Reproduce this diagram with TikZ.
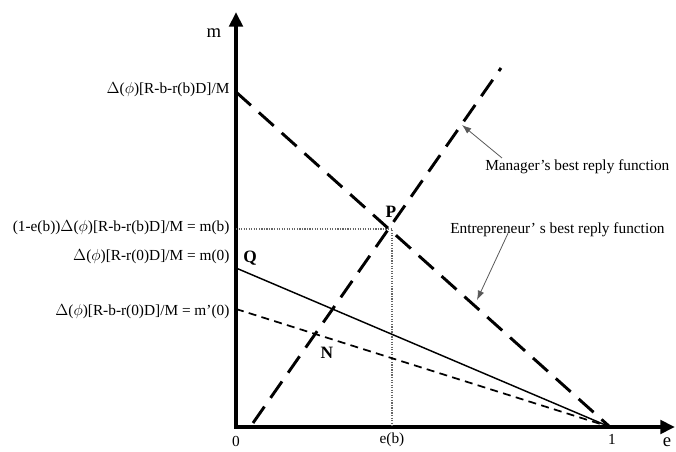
\documentclass[tikz,border=0pt]{standalone}
\usepackage{fontspec}
\setmainfont{Liberation Serif}
\usepackage{tikz}
\usetikzlibrary{arrows.meta, positioning}
\newcommand{\Dphi}{$\Delta$($\phi$)}

\begin{document}
\begin{tikzpicture}[x=0.75pt, y=-0.75pt, font=\fontsize{11.5}{13}\selectfont,
    axis/.style={line width=3pt, {Triangle[length=11pt, width=10pt]}-{Triangle[length=11pt, width=10pt]}},
    reply/.style={line width=2.2pt, dash pattern=on 15pt off 8pt},
    lbl/.style={anchor=east, inner sep=1pt},
    pt/.style={font=\fontsize{13}{15}\selectfont\bfseries, inner sep=1pt},
    big/.style={font=\fontsize{14}{16}\selectfont, inner sep=1pt},
    note/.style={draw=black!65, line width=0.6pt, -{Latex[length=7pt, width=5pt]}}]
    \useasboundingbox (0,0) rectangle (676,452);
    \coordinate (O) at (236,427);
    \coordinate (ytop) at (236,12);
    \coordinate (xend) at (675,427);
    \coordinate (one) at (610,427);
    \coordinate (eb) at (392,427);
    \coordinate (P) at (392,229);
    \coordinate (mb) at (236,229);
    \coordinate (A) at (236,92);
    \coordinate (Q) at (236,268);
    \coordinate (M0) at (236,309);
    \coordinate (B) at (253,423);
    \coordinate (T) at (501,68);

    % axes
    \draw[axis] (ytop) -- (O) -- (xend);
    \node[big] (mlab) at (214,33) {m};
    \node[big] (elab) at (667,442) {e};
    \node (zero) at (236,441) {0};
    \node (oneLab) at (612,439) {1};
    \node (ebLab) at (392,440) {e(b)};

    % guide lines to P
    \draw[densely dotted, black!60, line width=0.9pt] (mb) -- (P) -- (eb);

    % best reply functions
    \draw[reply] (A) -- (one);
    \draw[reply] (B) -- (T);
    \draw[line width=1.1pt] (Q) -- (one);
    \draw[line width=1.3pt, dash pattern=on 6pt off 4pt] (M0) -- (one);

    % values on the m axis
    \node[lbl] (lA) at (231,90) {\Dphi[R-b-r(b)D]/M};
    \node[lbl] (lmb) at (231,228) {(1-e(b))\Dphi[R-b-r(b)D]/M = m(b)};
    \node[lbl] (lm0) at (231,257) {\Dphi[R-r(0)D]/M = m(0)};
    \node[lbl] (lm1) at (231,312) {\Dphi[R-b-r(0)D]/M = m’(0)};

    \node[pt] (Plab) at (391,212) {P};
    \node[pt] (Qlab) at (250,258) {Q};
    \node[pt] (Nlab) at (327,353) {N};

    \node[anchor=west, inner sep=0pt] (man) at (485,167) {Manager’s best reply function};
    \node[anchor=west, inner sep=0pt] (ent) at (450,230) {Entrepreneur’ s best reply function};
    \coordinate (mtip) at (462,125);
    \coordinate (etip) at (477,300);
    \draw[note] (502,158) -- (mtip);
    \draw[note] (ent.south -| 508,0) ++(0,-4) -- (etip);
\end{tikzpicture}
\end{document}
